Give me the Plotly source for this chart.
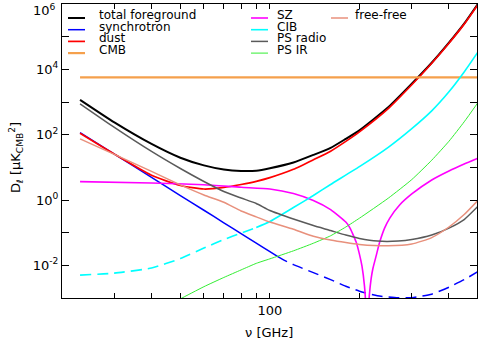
"""Spectres des avant-plans D_l en fonction de la frequence"""

import math
import plotly.graph_objects as go

# frequences (GHz) et valeurs (muK_CMB^2)
NU_TOTAL = [23, 30, 40, 50, 60, 70, 80, 90, 100, 120, 140, 160, 180, 200, 250, 300, 350, 400, 450, 500]
D_TOTAL = [1168, 238, 52.2, 19.7, 11.5, 8.6, 7.76, 7.9, 9.4, 14.1, 24, 39.4, 74.3, 135.5, 688, 3615, 15900, 65500,
           2.5e5, 9.9e5]

NU_SYNC = [23, 30, 40, 50, 60, 70, 80, 90, 100, 106, 110, 120, 140, 160, 180, 200, 230, 270, 300, 350, 400, 450, 500]
D_SYNC = [116, 25.4, 4.93, 1.37, 0.486, 0.201, 0.0938, 0.048, 0.0263, 0.0189, 0.0155, 0.0105, 0.006, 0.00364,
          0.0023, 0.00162, 0.00117, 0.00102, 0.00102, 0.00131, 0.00214, 0.00364, 0.0064]

NU_DUST = [23, 30, 40, 50, 60, 70, 80, 90, 100, 120, 140, 160, 180, 200, 250, 300, 350, 400, 450, 500]
D_DUST = [111, 25.4, 5.7, 2.77, 2.17, 2.42, 2.99, 3.72, 4.83, 8.7, 17, 31.2, 62.3, 122, 628, 3370, 15400, 63200,
          2.42e5, 9.45e5]

NU_CMB = [23, 500]
D_CMB = [5700, 5700]

NU_SZ = [23, 40, 60, 80, 100, 120, 140, 160, 180, 185.6, 190, 195, 200, 204, 208, 210.5, 212.1, 214, 216, 219,
         222, 228, 234, 243, 253, 273, 300, 350, 400, 450, 500]
D_SZ = [3.64, 3.32, 2.93, 2.45, 2.18, 1.58, 0.966, 0.51, 0.211, 0.143, 0.0906, 0.0515, 0.0221, 0.00945, 0.0023,
        0.0004, 1e-5, 0.0003, 0.00122, 0.0039, 0.008, 0.0206, 0.0515, 0.138, 0.28, 0.703, 1.53, 4.11, 7.76,
        12.7, 19]

NU_CIB = [23, 30, 40, 50, 60, 70, 80, 90, 100, 120, 140, 160, 200, 250, 300, 350, 400, 450, 500]
D_CIB = [0.00501, 0.00577, 0.0083, 0.0161, 0.0337, 0.0614, 0.0972, 0.143, 0.219, 0.589, 1.37, 2.99, 10.5, 41,
         153, 537, 2055, 8320, 33500]

NU_PSR = [23, 30, 40, 50, 60, 70, 80, 90, 100, 120, 140, 160, 180, 200, 230, 270, 300, 350, 400, 450, 500]
D_PSR = [881, 167, 30.7, 9.2, 3.69, 1.82, 1.15, 0.78, 0.476, 0.261, 0.165, 0.116, 0.0844, 0.0668, 0.0552, 0.0552,
         0.0614, 0.0844, 0.138, 0.252, 0.632]

NU_PSIR = [47, 50, 60, 70, 80, 90, 100, 120, 140, 160, 180, 200, 250, 300, 350, 400, 450, 500]
D_PSIR = [0.00069, 0.00094, 0.00222, 0.00425, 0.00723, 0.0115, 0.0158, 0.0278, 0.0475, 0.0803, 0.149, 0.277,
          1.135, 4.22, 16.5, 62.8, 247, 945]

NU_FF = [23, 30, 40, 50, 60, 70, 80, 90, 100, 120, 140, 160, 180, 200, 250, 300, 350, 400, 450, 500]
D_FF = [74.3, 25, 7.5, 2.89, 1.42, 0.85, 0.46, 0.305, 0.211, 0.127, 0.0776, 0.0593, 0.0497, 0.0438, 0.0396,
        0.0447, 0.0708, 0.149, 0.359, 0.966]

X_TICKS = [30, 40, 50, 60, 70, 80, 90, 100, 200, 300, 400]
X_LABELS = {100: "100"}
Y_TICKS = [-3, -2, -1, 0, 1, 2, 3, 4, 5, 6]
Y_LABELED = [-2, 0, 2, 4]
Y_TOP_LABEL = "10<sup>6</sup>"

X_TITLE = "ν [GHz]"
Y_TITLE = "D<sub>ℓ</sub> [μK<sub>CMB</sub><sup>2</sup>]"

# style
SYNC_DASH_ABOVE = 106   # synchrotron en tirets au dela
CIB_DASH_BELOW = 90     # CIB en tirets en dessous
DASH = "11px,6px"
FONT = "DejaVu Sans"

SERIES = [
    # nom, nu, D, couleur, epaisseur
    ("total foreground", NU_TOTAL, D_TOTAL, "#000000", 2.0),
    ("synchrotron", NU_SYNC, D_SYNC, "#0000ff", 1.5),
    ("dust", NU_DUST, D_DUST, "#ff0000", 1.7),
    ("CMB", NU_CMB, D_CMB, "#f5a04c", 2.2),
    ("SZ", NU_SZ, D_SZ, "#ff00ff", 1.6),
    ("CIB", NU_CIB, D_CIB, "#00ffff", 1.6),
    ("PS radio", NU_PSR, D_PSR, "#5a5a5a", 1.5),
    ("PS IR", NU_PSIR, D_PSIR, "#33ee33", 1.0),
    ("free-free", NU_FF, D_FF, "#e8907c", 1.5),
]

# colonnes de la legende : debut du trait, debut du texte (pixels)
LEGEND_COLS = [
    (68, 97, ["total foreground", "synchrotron", "dust", "CMB"]),
    (251, 275, ["SZ", "CIB", "PS radio", "PS IR"]),
    (331, 353, ["free-free"]),
]

# zone de trace en pixels
L, T, W, H = 62, 4, 415, 294


def px_x(px):
    return (px - L) / W


def px_y(py):
    return (T + H - py) / H


def split(nu, d, cut, dash_above):
    """separe une serie en partie pleine et partie en tirets"""
    lo = [(n, v) for n, v in zip(nu, d) if n <= cut]
    hi = [(n, v) for n, v in zip(nu, d) if n >= cut]
    return (lo, hi) if dash_above else (hi, lo)


def main():
    fig = go.Figure()
    for name, nu, d, color, w in SERIES:
        parts = [(list(zip(nu, d)), "solid")]
        if name == "synchrotron":
            solid, dashed = split(nu, d, SYNC_DASH_ABOVE, True)
            parts = [(solid, "solid"), (dashed, DASH)]
        elif name == "CIB":
            solid, dashed = split(nu, d, CIB_DASH_BELOW, False)
            parts = [(solid, "solid"), (dashed, DASH)]
        for pts, dash in parts:
            fig.add_trace(go.Scatter(
                x=[p[0] for p in pts], y=[p[1] for p in pts], mode="lines", name=name,
                line=dict(color=color, width=w, dash=dash, shape="spline", smoothing=0.5),
                showlegend=False,
            ))

    colors = {s[0]: (s[3], s[4]) for s in SERIES}
    shapes, annots = [], []
    for x_line, x_text, names in LEGEND_COLS:
        for i, name in enumerate(names):
            yc = 15 + 11.7 * i
            c, w = colors[name]
            shapes.append(dict(type="line", xref="paper", yref="paper",
                               x0=px_x(x_line), x1=px_x(x_line + 17),
                               y0=px_y(yc + 3), y1=px_y(yc + 3),
                               line=dict(color=c, width=w)))
            annots.append(dict(text=name, xref="paper", yref="paper", x=px_x(x_text), y=px_y(yc),
                               xanchor="left", yanchor="middle", showarrow=False,
                               font=dict(family=FONT, size=12)))

    # titres et etiquette du haut
    annots.append(dict(text=Y_TITLE, xref="paper", yref="paper", x=px_x(16), y=px_y(158),
                       xanchor="center", yanchor="middle", textangle=-90, showarrow=False,
                       font=dict(family=FONT, size=13)))
    annots.append(dict(text=X_TITLE, xref="paper", yref="paper", x=px_x(269), y=px_y(332),
                       xanchor="center", yanchor="middle", showarrow=False,
                       font=dict(family=FONT, size=13)))
    annots.append(dict(text=Y_TOP_LABEL, xref="paper", yref="paper", x=px_x(58), y=px_y(10),
                       xanchor="right", yanchor="middle", showarrow=False,
                       font=dict(family=FONT, size=13)))

    fig.update_layout(
        width=479, height=342,
        margin=dict(l=L, r=479 - L - W, t=T, b=342 - T - H, autoexpand=False),
        paper_bgcolor="white", plot_bgcolor="white",
        font=dict(family=FONT, size=13, color="black"),
        showlegend=False, shapes=shapes, annotations=annots,
        xaxis=dict(type="log", range=[math.log10(20), math.log10(497)],
                   tickvals=X_TICKS, ticktext=[X_LABELS.get(v, "") for v in X_TICKS],
                   ticks="inside", ticklen=5, tickcolor="black", automargin=False,
                   showline=True, linecolor="black", linewidth=1, mirror="ticks",
                   showgrid=False, zeroline=False),
        yaxis=dict(type="log", range=[-3, 6],
                   tickvals=[10 ** e for e in Y_TICKS],
                   ticktext=[("10<sup>%d</sup>" % e) if e in Y_LABELED else "" for e in Y_TICKS],
                   ticks="inside", ticklen=7, tickcolor="black", automargin=False,
                   showline=True, linecolor="black", linewidth=1, mirror="ticks",
                   showgrid=False, zeroline=False),
    )
    fig.write_html("out.html", config={"displayModeBar": False},
                   post_script="document.body.style.margin='0';")


if __name__ == "__main__":
    main()
